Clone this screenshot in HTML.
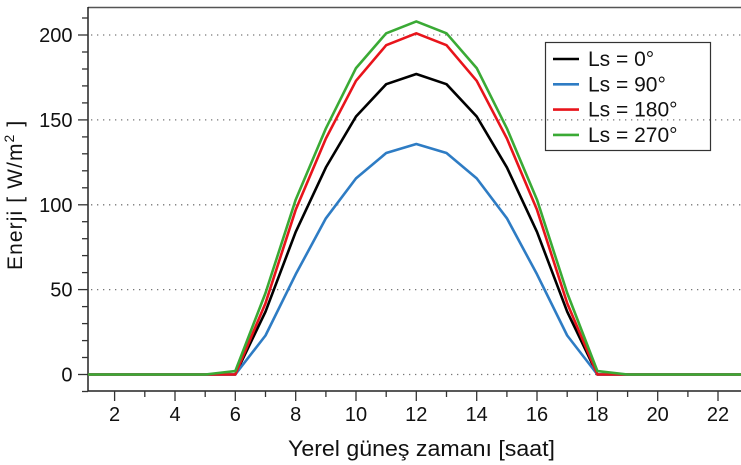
<!DOCTYPE html>
<html><head><meta charset="utf-8"><style>
html,body{margin:0;padding:0;background:#fff;}
svg{display:block;}
text{font-family:"Liberation Sans",Arial,sans-serif;fill:#111;}
</style></head><body>
<svg width="741" height="465" viewBox="0 0 741 465" xmlns="http://www.w3.org/2000/svg">
<defs><clipPath id="pc"><rect x="88" y="7" width="653" height="384"/></clipPath></defs>
<!-- grid -->
<g stroke="#777" stroke-width="1.3" stroke-dasharray="1.3,4.7">
<line x1="91" y1="374.5" x2="741" y2="374.5"/>
<line x1="91" y1="289.6" x2="741" y2="289.6"/>
<line x1="91" y1="204.8" x2="741" y2="204.8"/>
<line x1="91" y1="119.9" x2="741" y2="119.9"/>
<line x1="91" y1="35" x2="741" y2="35"/>
</g>
<!-- frame -->
<line x1="88" y1="7.5" x2="741" y2="7.5" stroke="#555" stroke-width="1.5"/>
<line x1="88" y1="7" x2="88" y2="391" stroke="#222" stroke-width="1.5"/>
<line x1="88" y1="391" x2="741" y2="391" stroke="#222" stroke-width="1.5"/>
<!-- y ticks -->
<g stroke="#333" stroke-width="1.3">
<line x1="78" y1="374.5" x2="88" y2="374.5"/><line x1="78" y1="289.6" x2="88" y2="289.6"/><line x1="78" y1="204.8" x2="88" y2="204.8"/><line x1="78" y1="119.9" x2="88" y2="119.9"/><line x1="78" y1="35" x2="88" y2="35"/>
<line x1="82" y1="391.5" x2="88" y2="391.5"/><line x1="82" y1="357.5" x2="88" y2="357.5"/><line x1="82" y1="340.6" x2="88" y2="340.6"/><line x1="82" y1="323.6" x2="88" y2="323.6"/><line x1="82" y1="306.6" x2="88" y2="306.6"/>
<line x1="82" y1="272.6" x2="88" y2="272.6"/><line x1="82" y1="255.6" x2="88" y2="255.6"/><line x1="82" y1="238.7" x2="88" y2="238.7"/><line x1="82" y1="221.7" x2="88" y2="221.7"/>
<line x1="82" y1="187.8" x2="88" y2="187.8"/><line x1="82" y1="170.8" x2="88" y2="170.8"/><line x1="82" y1="153.8" x2="88" y2="153.8"/><line x1="82" y1="136.9" x2="88" y2="136.9"/>
<line x1="82" y1="102.9" x2="88" y2="102.9"/><line x1="82" y1="85.9" x2="88" y2="85.9"/><line x1="82" y1="69" x2="88" y2="69"/><line x1="82" y1="52" x2="88" y2="52"/>
<line x1="82" y1="18" x2="88" y2="18"/>
</g>
<!-- x ticks -->
<g stroke="#333" stroke-width="1.3">
<line x1="114.6" y1="391" x2="114.6" y2="401"/><line x1="175" y1="391" x2="175" y2="401"/><line x1="235.3" y1="391" x2="235.3" y2="401"/><line x1="295.7" y1="391" x2="295.7" y2="401"/><line x1="356" y1="391" x2="356" y2="401"/><line x1="416.3" y1="391" x2="416.3" y2="401"/><line x1="476.7" y1="391" x2="476.7" y2="401"/><line x1="537" y1="391" x2="537" y2="401"/><line x1="597.4" y1="391" x2="597.4" y2="401"/><line x1="657.7" y1="391" x2="657.7" y2="401"/><line x1="718" y1="391" x2="718" y2="401"/>
<line x1="144.8" y1="391" x2="144.8" y2="397"/><line x1="205.2" y1="391" x2="205.2" y2="397"/><line x1="265.5" y1="391" x2="265.5" y2="397"/><line x1="325.9" y1="391" x2="325.9" y2="397"/><line x1="386.2" y1="391" x2="386.2" y2="397"/><line x1="446.5" y1="391" x2="446.5" y2="397"/><line x1="506.9" y1="391" x2="506.9" y2="397"/><line x1="567.2" y1="391" x2="567.2" y2="397"/><line x1="627.6" y1="391" x2="627.6" y2="397"/><line x1="687.9" y1="391" x2="687.9" y2="397"/>
</g>
<!-- y labels -->
<g font-size="20" text-anchor="end">
<text x="72.5" y="381.5">0</text>
<text x="72.5" y="296.6">50</text>
<text x="72.5" y="211.8">100</text>
<text x="72.5" y="126.9">150</text>
<text x="72.5" y="42">200</text>
</g>
<!-- x labels -->
<g font-size="20" text-anchor="middle">
<text x="114.6" y="421">2</text><text x="175" y="421">4</text><text x="235.3" y="421">6</text><text x="295.7" y="421">8</text><text x="356" y="421">10</text><text x="416.3" y="421">12</text><text x="476.7" y="421">14</text><text x="537" y="421">16</text><text x="597.4" y="421">18</text><text x="657.7" y="421">20</text><text x="718" y="421">22</text>
</g>
<!-- axis titles -->
<text x="288" y="456" font-size="22" textLength="267" lengthAdjust="spacingAndGlyphs">Yerel güneş zamanı [saat]</text>
<text transform="translate(22,270) rotate(-90)" font-size="21" letter-spacing="1.1">Enerji [ W/m<tspan font-size="14" dy="-8">2</tspan><tspan dy="8"> ]</tspan></text>
<!-- series -->
<g clip-path="url(#pc)" fill="none" stroke-width="2.6" stroke-linejoin="round">
<polyline stroke="#000" points="84.5,374.5 235.3,374.5 265.5,311.7 295.7,231.9 325.9,167.4 356,116.5 386.2,84.2 416.3,74 446.5,84.2 476.7,116.5 506.9,167.4 537,231.9 567.2,311.7 597.4,374.5 748.1,374.5"/>
<polyline stroke="#2e7cc4" points="84.5,374.5 235.3,374.5 265.5,335.5 295.7,274.3 325.9,218.3 356,178.4 386.2,153 416.3,144 446.5,153 476.7,178.4 506.9,218.3 537,274.3 567.2,335.5 597.4,374.5 748.1,374.5"/>
<polyline stroke="#e8141b" points="84.5,374.5 235.3,374.5 265.5,303.2 295.7,209.8 325.9,138.5 356,80.8 386.2,45.2 416.3,33.3 446.5,45.2 476.7,80.8 506.9,138.5 537,209.8 567.2,303.2 597.4,374.5 748.1,374.5"/>
<polyline stroke="#3aaa35" points="84.5,374.5 205.2,374.5 235.3,371.1 265.5,293 295.7,199.7 325.9,128.4 356,68.1 386.2,33.3 416.3,21.4 446.5,33.3 476.7,68.1 506.9,128.4 537,199.7 567.2,293 597.4,371.1 627.6,374.5 748.1,374.5"/>
</g>
<!-- legend -->
<rect x="545.5" y="42.5" width="165" height="108" fill="none" stroke="#333" stroke-width="1.2"/>
<g stroke-width="2.6">
<line x1="553" y1="59" x2="579" y2="59" stroke="#000"/>
<line x1="553" y1="84.3" x2="579" y2="84.3" stroke="#2e7cc4"/>
<line x1="553" y1="109.6" x2="579" y2="109.6" stroke="#e8141b"/>
<line x1="553" y1="134.9" x2="579" y2="134.9" stroke="#3aaa35"/>
</g>
<g font-size="21">
<text x="588" y="66">Ls = 0°</text>
<text x="588" y="91.3">Ls = 90°</text>
<text x="588" y="116.6">Ls = 180°</text>
<text x="588" y="141.9">Ls = 270°</text>
</g>
</svg>
</body></html>
